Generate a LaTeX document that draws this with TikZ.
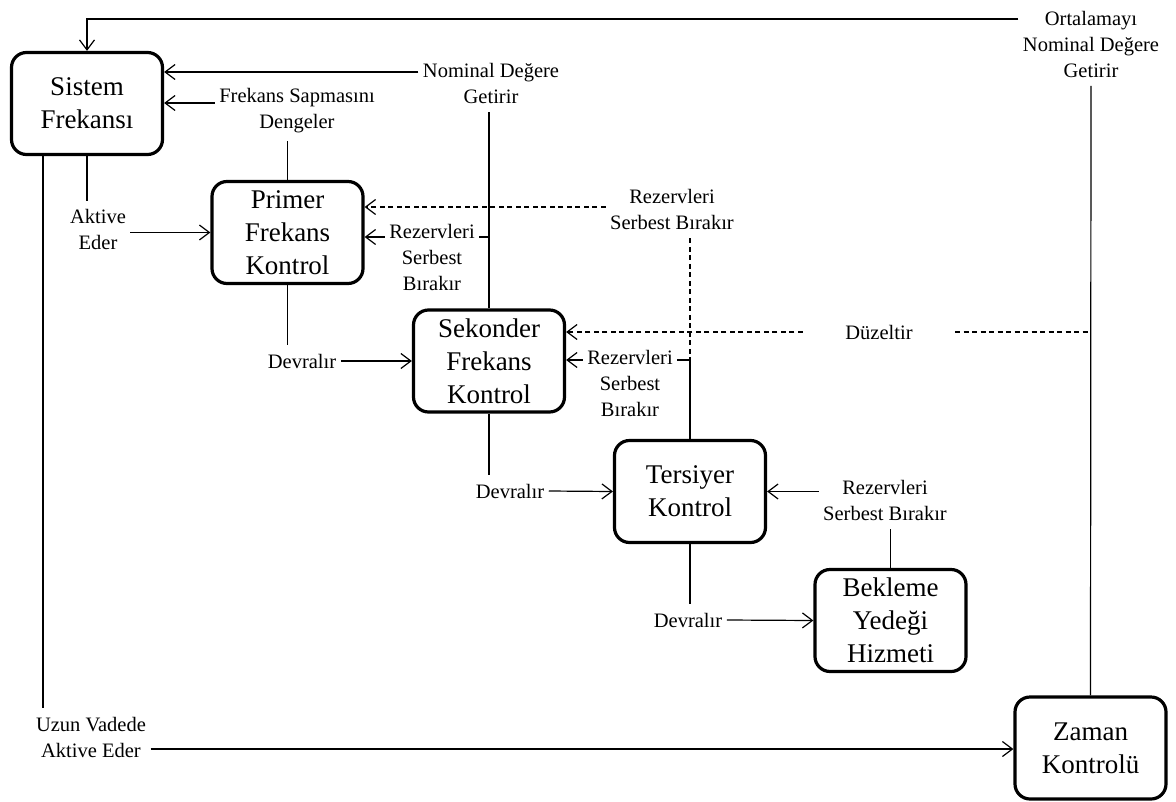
\documentclass[tikz,border=0pt]{standalone}
\usepackage{fontspec}
\setmainfont{Liberation Serif}
\usetikzlibrary{arrows.meta,positioning,calc}

\begin{document}
\begin{tikzpicture}[x=1pt,y=-1pt,line width=1.2pt,
    >={Straight Barb[length=10pt,width=15pt]},
    box/.style={draw,line width=3.2pt,rounded corners=15pt,minimum width=151pt,minimum height=102pt,
        align=center,inner sep=0pt,font=\fontsize{27}{33}\selectfont},
    lbl/.style={align=center,inner xsep=4pt,inner ysep=8pt,font=\fontsize{20.5}{26}\selectfont},
    dsh/.style={dash pattern=on 5pt off 3.5pt}]
    \useasboundingbox (0,0) rectangle (1176,801);
    % kutular
    \node[box] (sis) at (87,103.5) {Sistem\\Frekansı};
    \node[box] (pri) at (287.5,232.5) {Primer\\Frekans\\Kontrol};
    \node[box] (sek) at (489,361) {Sekonder\\Frekans\\Kontrol};
    \node[box] (ter) at (690,491.5) {Tersiyer\\Kontrol};
    \node[box] (bek) at (890.5,620.5) {Bekleme\\Yedeği\\Hizmeti};
    \node[box] (zam) at (1090.5,748) {Zaman\\Kontrolü};
    % etiketler
    \node[lbl] (ort) at (1091,44) {Ortalamayı\\Nominal Değere\\Getirir};
    \node[lbl] (nom) at (491,83.5) {Nominal Değere\\Getirir};
    \node[lbl] (sap) at (297,110.5) {Frekans Sapmasını\\Dengeler};
    \node[lbl] (akt) at (98,229.5) {Aktive\\Eder};
    \node[lbl] (rzp) at (432,257.5) {Rezervleri\\Serbest\\Bırakır};
    \node[lbl] (rzu) at (672,209.5) {Rezervleri\\Serbest Bırakır};
    \node[lbl] (rzs) at (630,383) {Rezervleri\\Serbest\\Bırakır};
    \node[lbl,inner xsep=42pt] (duz) at (879,332) {Düzeltir};
    \node[lbl] (rzt) at (885,500.5) {Rezervleri\\Serbest Bırakır};
    \node[lbl] (dv1) at (302,361) {Devralır};
    \node[lbl] (dv2) at (510,491) {Devralır};
    \node[lbl] (dv3) at (688,620) {Devralır};
    \node[lbl] (uzn) at (91,737) {Uzun Vadede\\Aktive Eder};
    \coordinate (lft) at ([xshift=-44pt]sis.south);
    % duz cizgiler
    \draw[->] ([yshift=25pt]ort.west) -| (sis.north);
    \draw (ort.south) -- (zam.north);
    \draw[->] ([yshift=11.5pt]nom.west) -- ([yshift=11.5pt]nom.west -| sis.east);
    \draw (sek.north |- nom.south) -- (sek.north);
    \draw[->] ([yshift=7.5pt]sap.west) -- ([yshift=7.5pt]sap.west -| sis.east);
    \draw (pri.north |- sap.south) -- (pri.north);
    \draw (sis.south) -- (sis.south |- akt.north);
    \draw[->] (akt.east |- pri.west) -- (pri.west);
    \draw[->] ([yshift=20.5pt]rzp.west) -- ([yshift=20.5pt]rzp.west -| pri.east);
    \draw ([yshift=20.5pt]rzp.east) -| (sek.north);
    \draw[->] ([yshift=23pt]rzs.west) -- ([yshift=23pt]rzs.west -| sek.east);
    \draw ([yshift=23pt]rzs.east) -| (ter.north);
    \draw[->] (rzt.west |- ter.east) -- (ter.east);
    \draw (bek.north) -- (bek.north |- rzt.south);
    \draw (pri.south) -- (pri.south |- dv1.north);
    \draw[->] (dv1.east) -- (sek.west);
    \draw (sek.south) -- (sek.south |- dv2.north);
    \draw[->] (dv2.east) -- (ter.west);
    \draw (ter.south) -- (ter.south |- dv3.north);
    \draw[->] (dv3.east) -- (bek.west);
    \draw (lft) -- (lft |- uzn.north);
    \draw[->] ([yshift=-12pt]uzn.east) -- ([yshift=-12pt]uzn.east -| zam.west);
    % kesikli cizgiler
    \draw[dsh,->] ([yshift=2.5pt]rzu.west) -- ([yshift=2.5pt]rzu.west -| pri.east);
    \draw[dsh] (ter.north |- rzu.south) -- (ter.north);
    \draw[dsh,->] (duz.west) -- (duz.west -| sek.east);
    \draw[dsh] (duz.east) -- (duz.east -| zam.north) -- (zam.north);
\end{tikzpicture}
\end{document}
